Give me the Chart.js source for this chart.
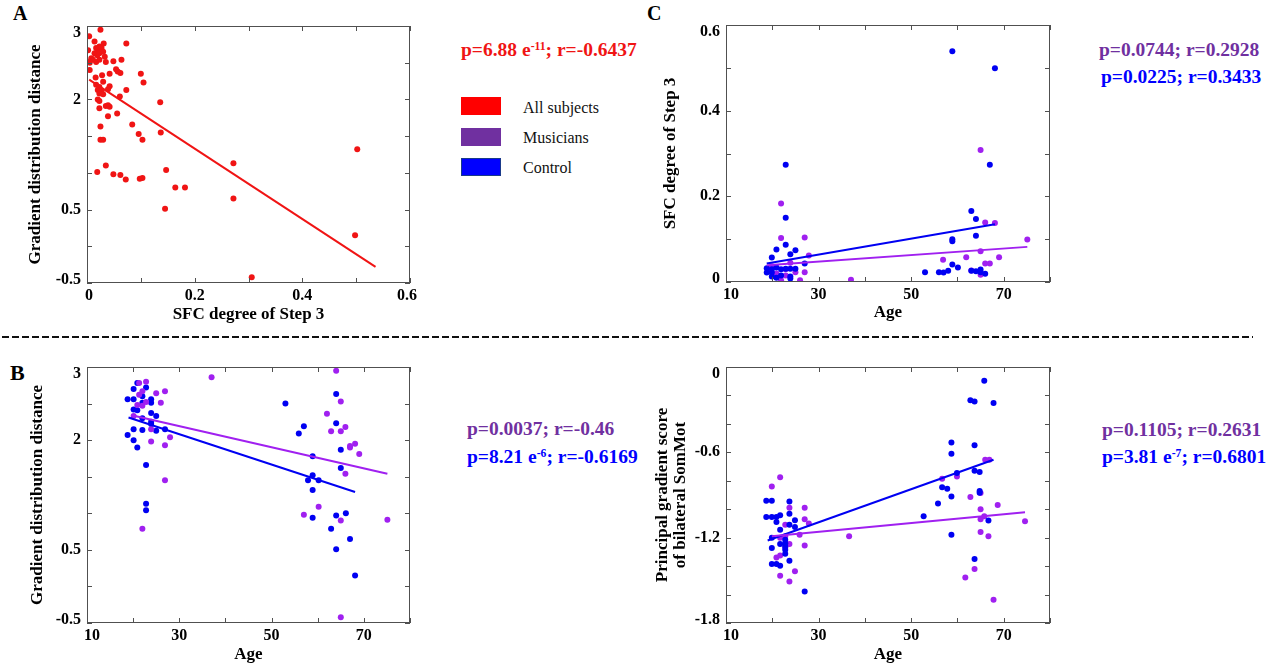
<!DOCTYPE html>
<html><head><meta charset="utf-8">
<script src="https://cdn.jsdelivr.net/npm/chart.js@4.4.1/dist/chart.umd.min.js"></script>
<style>
body{margin:0;width:1266px;height:666px;background:#fff;position:relative;overflow:hidden;font-family:"Liberation Serif","Times New Roman",serif}
canvas{position:absolute}
.t{position:absolute;white-space:nowrap;line-height:1;font-weight:bold}
.ann{font-size:19.5px}
.lg{position:absolute;white-space:nowrap;line-height:1;font-size:16px;color:#111}
.box{position:absolute;width:40px;height:18px}
sup{font-size:0.6em;vertical-align:0.55em;line-height:0}
</style></head><body>

<div class="t" style="left:13px;top:3px;font-size:20px">A</div>
<div class="t" style="left:647px;top:3px;font-size:20px">C</div>
<div class="t" style="left:10px;top:362px;font-size:22px">B</div>

<canvas id="cA" width="430" height="335" style="left:0;top:0"></canvas>
<canvas id="cC" width="430" height="335" style="left:640px;top:0"></canvas>
<canvas id="cB" width="430" height="326" style="left:0;top:340px"></canvas>
<canvas id="cD" width="430" height="326" style="left:640px;top:340px"></canvas>

<div class="t ann" style="left:461px;top:40px;color:#f01414">p=6.88 e<sup>-11</sup>; r=-0.6437</div>
<div class="box" style="left:461px;top:97px;background:#ff0000"></div>
<div class="box" style="left:461px;top:128px;background:#7030a0"></div>
<div class="box" style="left:461px;top:158px;background:#0000ff;box-shadow:inset 0 0 0 1px #1a3a8a"></div>
<div class="lg" style="left:523px;top:100px">All subjects</div>
<div class="lg" style="left:523px;top:130px">Musicians</div>
<div class="lg" style="left:523px;top:160px">Control</div>

<div class="t ann" style="left:1099px;top:40px;color:#7030a0">p=0.0744; r=0.2928</div>
<div class="t ann" style="left:1101px;top:67px;color:#0000ff">p=0.0225; r=0.3433</div>
<div class="t ann" style="left:467px;top:419px;color:#7030a0">p=0.0037; r=-0.46</div>
<div class="t ann" style="left:467px;top:447px;color:#0000ff">p=8.21 e<sup>-6</sup>; r=-0.6169</div>
<div class="t ann" style="left:1102px;top:420px;color:#7030a0">p=0.1105; r=0.2631</div>
<div class="t ann" style="left:1102px;top:447px;color:#0000ff">p=3.81 e<sup>-7</sup>; r=0.6801</div>

<svg style="position:absolute;left:0;top:0" width="1266" height="666"><line x1="2" y1="337" x2="1253" y2="337" stroke="#111" stroke-width="2" stroke-dasharray="7 3"/></svg>

<script>
// ---------- Panel A: SFC degree of Step 3 vs gradient distribution distance (all subjects)
const allSubjects = [[0.004,2.86],[0.025,2.95],[0.002,2.67],[0.014,2.79],[0.031,2.76],[0.073,2.76],[0.017,2.70],[0.020,2.67],[0.023,2.72],[0.027,2.70],[0.014,2.63],[0.019,2.60],[0.023,2.63],[0.008,2.56],[0.011,2.54],[0.002,2.51],[0.005,2.50],[0.017,2.51],[0.023,2.54],[0.033,2.58],[0.035,2.51],[0.030,2.65],[0.049,2.52],[0.064,2.54],[0.005,2.40],[0.054,2.41],[0.057,2.38],[0.062,2.36],[0.042,2.35],[0.100,2.35],[0.028,2.33],[0.016,2.30],[0.105,2.23],[0.030,2.24],[0.017,2.20],[0.023,2.17],[0.020,2.13],[0.027,2.12],[0.042,2.18],[0.039,2.14],[0.073,2.13],[0.061,2.04],[0.023,2.08],[0.030,2.07],[0.020,2.00],[0.023,1.98],[0.136,1.96],[0.023,1.88],[0.035,1.91],[0.039,1.92],[0.042,1.90],[0.056,1.81],[0.039,1.77],[0.025,1.63],[0.084,1.66],[0.096,1.53],[0.137,1.55],[0.103,1.45],[0.025,1.45],[0.030,1.45],[0.502,1.32],[0.272,1.13],[0.035,1.10],[0.019,1.01],[0.147,1.04],[0.049,0.98],[0.062,0.97],[0.072,0.91],[0.098,0.92],[0.103,0.93],[0.164,0.80],[0.182,0.80],[0.272,0.65],[0.145,0.51],[0.498,0.15],[0.306,-0.42]];
const allSubjectsFit = [[0.004,2.27],[0.536,-0.28]];
const sfcTickLabels = [0,0.2,0.4,0.6];
const distTickLabels = [3,2,0.5,-0.5];

// ---------- Panel C: Age vs SFC degree of Step 3
const musiciansC = [[65,0.308],[21.9,0.183],[66,0.139],[68.1,0.138],[21.9,0.103],[27,0.104],[75.1,0.099],[65,0.072],[27.9,0.062],[61.9,0.058],[69,0.058],[56.9,0.052],[66,0.043],[67,0.043],[63,0.027],[25,0.023],[27,0.023],[19.9,0.037],[65,0.017],[20.9,0.020],[22.9,0.015],[21.9,0.004],[26,0.004],[37,0.005],[23.9,0.045],[22.9,0.030]];
const controlC = [[58.9,0.539],[68.1,0.499],[22.9,0.274],[67,0.274],[63,0.166],[22.9,0.150],[64,0.147],[64,0.108],[58.9,0.100],[58.9,0.095],[22.9,0.087],[20.9,0.076],[25,0.074],[19.9,0.057],[23.9,0.065],[27,0.043],[58.9,0.041],[60.1,0.034],[18.8,0.032],[19.9,0.030],[20.9,0.034],[21.9,0.030],[22.9,0.031],[23.9,0.031],[25,0.031],[18.8,0.022],[19.9,0.022],[19.9,0.013],[20.9,0.010],[21.9,0.015],[23.9,0.013],[23.9,0.008],[53,0.023],[56,0.023],[57,0.022],[58,0.026],[63,0.026],[64,0.025],[65,0.029],[65,0.023],[66,0.019]];
const musiciansCFit = [[18.8,0.039],[75.1,0.082]];
const controlCFit = [[18.8,0.043],[68.1,0.135]];
const sfcYTickLabels = [0,0.2,0.4,0.6];
const ageTickLabels = [10,30,50,70];

// ---------- Panel B: Age vs gradient distribution distance
const musiciansB = [[37,2.86],[64,2.95],[21.3,2.78],[22.8,2.80],[21.3,2.62],[22,2.67],[25,2.64],[26.9,2.67],[22.8,2.52],[20.9,2.48],[22,2.47],[26,2.51],[65,2.53],[20.1,2.33],[62,2.36],[23.9,2.15],[62.9,2.12],[65,2.12],[66,2.18],[23.9,1.98],[28,2.04],[26.9,1.93],[67,1.90],[67,1.92],[68.1,1.95],[69,1.81],[66,1.54],[26.9,1.45],[60.2,1.09],[57,0.98],[65,0.90],[75.1,0.91],[22,0.79],[65,-0.42]];
const controlB = [[20.9,2.78],[20.1,2.70],[22.8,2.72],[18.8,2.56],[20.1,2.56],[22,2.60],[23.9,2.56],[22,2.51],[23.9,2.51],[20.1,2.42],[20.9,2.41],[23.9,2.37],[25,2.33],[22,2.30],[23.9,2.25],[23.9,2.22],[20.1,2.15],[22,2.14],[25,2.13],[26.9,2.15],[18.8,2.07],[20.1,2.00],[20.9,1.90],[22.8,1.66],[22.8,1.13],[22.8,1.04],[53,2.50],[57,2.19],[55.9,2.09],[64,2.63],[64,2.23],[65,1.87],[58.9,1.78],[65,1.62],[58.9,1.52],[57.9,1.45],[60.2,1.45],[58.9,1.32],[58.9,0.94],[64,0.97],[66.1,1.00],[62.9,0.79],[67,0.65],[64,0.51],[68.1,0.15]];
const musiciansBFit = [[19.7,2.34],[75.1,1.54]];
const controlBFit = [[19,2.31],[68.1,1.29]];

// ---------- Panel D: Age vs principal gradient score of bilateral SomMot
const musiciansD = [[21.7,-0.776],[19.9,-0.84],[56.7,-0.785],[59.9,-0.77],[65,-0.886],[62.8,-0.914],[66,-0.652],[66.9,-0.652],[68.7,-0.97],[65,-1.0],[65.8,-1.05],[65,-1.07],[74.6,-1.085],[27,-0.99],[23.7,-0.99],[27,-1.07],[27.9,-1.10],[22.8,-1.11],[25.9,-1.18],[36.6,-1.19],[65,-1.16],[66.7,-1.19],[21.7,-1.2],[22.8,-1.19],[23.7,-1.245],[27,-1.255],[20.9,-1.34],[21.7,-1.325],[22.8,-1.27],[24.9,-1.437],[21.7,-1.468],[23.7,-1.508],[61.7,-1.48],[63.7,-1.42],[67.8,-1.637]];
const controlD = [[65.8,-0.096],[62.8,-0.234],[63.7,-0.242],[67.8,-0.253],[58.7,-0.53],[63.7,-0.55],[58.7,-0.61],[63.7,-0.73],[64.8,-0.738],[59.9,-0.745],[56.7,-0.845],[57.8,-0.856],[64.8,-0.872],[64.8,-0.884],[58.7,-0.91],[55.8,-0.96],[52.7,-1.05],[66.7,-1.08],[58.7,-1.18],[63.7,-1.35],[18.7,-0.94],[19.9,-0.94],[23.7,-0.945],[18.7,-1.055],[19.9,-1.055],[20.9,-1.055],[21.7,-1.043],[20.9,-1.09],[23.7,-1.031],[24.9,-1.078],[21.7,-1.144],[23.7,-1.109],[24.9,-1.125],[19.9,-1.2],[22.8,-1.215],[22.8,-1.24],[22.8,-1.262],[22.8,-1.285],[22.8,-1.313],[21.7,-1.245],[19.9,-1.273],[19.9,-1.386],[20.9,-1.386],[21.7,-1.397],[23.7,-1.362],[27,-1.578]];
const musiciansDFit = [[19.9,-1.19],[74.6,-1.022]];
const controlDFit = [[19,-1.22],[67.8,-0.652]];
const somMotTickLabels = [0,-0.6,-1.2,-1.8];

// ---------- styling
const RED = '#f01414', PURPLE = '#a020f0', BLUE = '#0000f2';
const FAM = '"Liberation Serif","Times New Roman",serif';
const tickFont = {family:FAM, size:16, weight:'bold'};
const titleFont = {family:FAM, size:17, weight:'bold', lineHeight:1.2};

const framePlugin = {
  id:'frame',
  beforeDraw(chart, args, opts){
    const sh = opts.shift || {};
    const fix = (scale, firstShift, lastShift, idx) => {
      const items = scale.getLabelItems(chart.chartArea).filter(it => it.label !== '');
      if (!items.length) return;
      const f = items[0], l = items[items.length-1];
      if (!f._sh && firstShift){ f.options.translation[idx] += firstShift; f._sh = 1; }
      if (!l._sh && lastShift){ l.options.translation[idx] += lastShift; l._sh = 1; }
    };
    fix(chart.scales.x, sh.xFirst||0, sh.xLast||0, 0);
    fix(chart.scales.y, sh.yFirst||0, sh.yLast||0, 1);
  },
  afterDatasetsDraw(chart){
    const {ctx, chartArea:a, scales:{x, y}} = chart;
    ctx.save();
    ctx.strokeStyle = '#505050'; ctx.lineWidth = 1;
    ctx.strokeRect(Math.round(a.left)+0.5, Math.round(a.top)+0.5, Math.round(a.right-a.left)-1, Math.round(a.bottom-a.top)-1);
    const L = 5;
    ctx.beginPath();
    x.ticks.forEach(t => { const p = Math.round(x.getPixelForValue(t.value))+0.5;
      ctx.moveTo(p, a.bottom); ctx.lineTo(p, a.bottom-L); ctx.moveTo(p, a.top); ctx.lineTo(p, a.top+L); });
    y.ticks.forEach(t => { const p = Math.round(y.getPixelForValue(t.value))+0.5;
      ctx.moveTo(a.left, p); ctx.lineTo(a.left+L, p); ctx.moveTo(a.right, p); ctx.lineTo(a.right-L, p); });
    ctx.stroke();
    ctx.restore();
  }
};

const toXY = arr => arr.map(p => ({x:p[0], y:p[1]}));
const r10 = v => Math.round(v*10)/10;

function panel(id, o){
  const datasets = o.sets.map(s => s.line
    ? {data:toXY(s.data), showLine:true, pointRadius:0, borderColor:s.color, borderWidth:2, order:0}
    : {data:toXY(s.data), pointRadius:3, pointHoverRadius:3, backgroundColor:s.color, borderWidth:0, order:s.order});
  return new Chart(document.getElementById(id), {
    type:'scatter',
    data:{datasets},
    options:{
      responsive:false, animation:false, events:[],
      layout:{padding:{left:0, top:o.top, right:20, bottom:0}},
      plugins:{legend:{display:false}, tooltip:{enabled:false}, frame:{shift:o.shift}},
      scales:{
        x:{type:'linear', min:o.x.min, max:o.x.max,
          afterFit:s => { s.height = o.xH; },
          grid:{display:false, drawTicks:false}, border:{display:false},
          ticks:{stepSize:o.x.step, autoSkip:false, maxRotation:0, padding:3, color:'#000', font:tickFont,
            callback:v => o.x.labels.includes(r10(v)) ? String(r10(v)) : ''},
          title:{display:true, text:o.x.title, color:'#000', font:titleFont, padding:{top:0, bottom:o.x.tpad}}},
        y:{type:'linear', min:o.y.min, max:o.y.max,
          afterFit:s => { s.width = o.yW; },
          grid:{display:false, drawTicks:false}, border:{display:false},
          ticks:{stepSize:o.y.step, autoSkip:false, padding:6, color:'#000', font:tickFont,
            callback:v => o.y.labels.includes(r10(v)) ? String(r10(v)) : ''},
          title:{display:true, text:o.y.title, color:'#000', font:o.y.font || titleFont, padding:{top:o.y.tpad, bottom:0}}}
      }
    },
    plugins:[framePlugin]
  });
}

panel('cA', {
  top:26, xH:52, yW:87, shift:{yLast:7, yFirst:-3, xLast:-3, xFirst:2},
  sets:[{data:allSubjects, color:RED, order:1}, {data:allSubjectsFit, color:RED, line:true}],
  x:{min:0, max:0.6, step:0.1, labels:sfcTickLabels, title:'SFC degree of Step 3', tpad:10},
  y:{min:-0.5, max:3, step:0.5, labels:distTickLabels, title:'Gradient distribution distance', tpad:25}
});

panel('cC', {
  top:25, xH:53, yW:86, shift:{yLast:7, yFirst:-3, xFirst:5},
  sets:[{data:musiciansC, color:PURPLE, order:2}, {data:controlC, color:BLUE, order:1},
        {data:musiciansCFit, color:PURPLE, line:true}, {data:controlCFit, color:BLUE, line:true}],
  x:{min:10, max:80, step:10, labels:ageTickLabels, title:'Age', tpad:12},
  y:{min:0, max:0.6, step:0.1, labels:sfcYTickLabels, title:'SFC degree of Step 3', tpad:20}
});

panel('cB', {
  top:27, xH:43, yW:87, shift:{yLast:7, yFirst:-3, xFirst:5},
  sets:[{data:controlB, color:BLUE, order:2}, {data:musiciansB, color:PURPLE, order:1},
        {data:musiciansBFit, color:PURPLE, line:true}, {data:controlBFit, color:BLUE, line:true}],
  x:{min:10, max:80, step:10, labels:ageTickLabels, title:'Age', tpad:1},
  y:{min:-0.5, max:3, step:0.5, labels:distTickLabels, title:'Gradient distribution distance', tpad:27}
});

panel('cD', {
  top:27, xH:43, yW:86, shift:{yLast:7, yFirst:-3, xFirst:5},
  sets:[{data:musiciansD, color:PURPLE, order:2}, {data:controlD, color:BLUE, order:1},
        {data:musiciansDFit, color:PURPLE, line:true}, {data:controlDFit, color:BLUE, line:true}],
  x:{min:10, max:80, step:10, labels:ageTickLabels, title:'Age', tpad:1},
  y:{min:-1.8, max:0, step:0.2, labels:somMotTickLabels, title:['Principal gradient score','of bilateral SomMot'], tpad:13,
     font:{family:FAM, size:17, weight:'bold', lineHeight:1.1}}
});
</script>
</body></html>
